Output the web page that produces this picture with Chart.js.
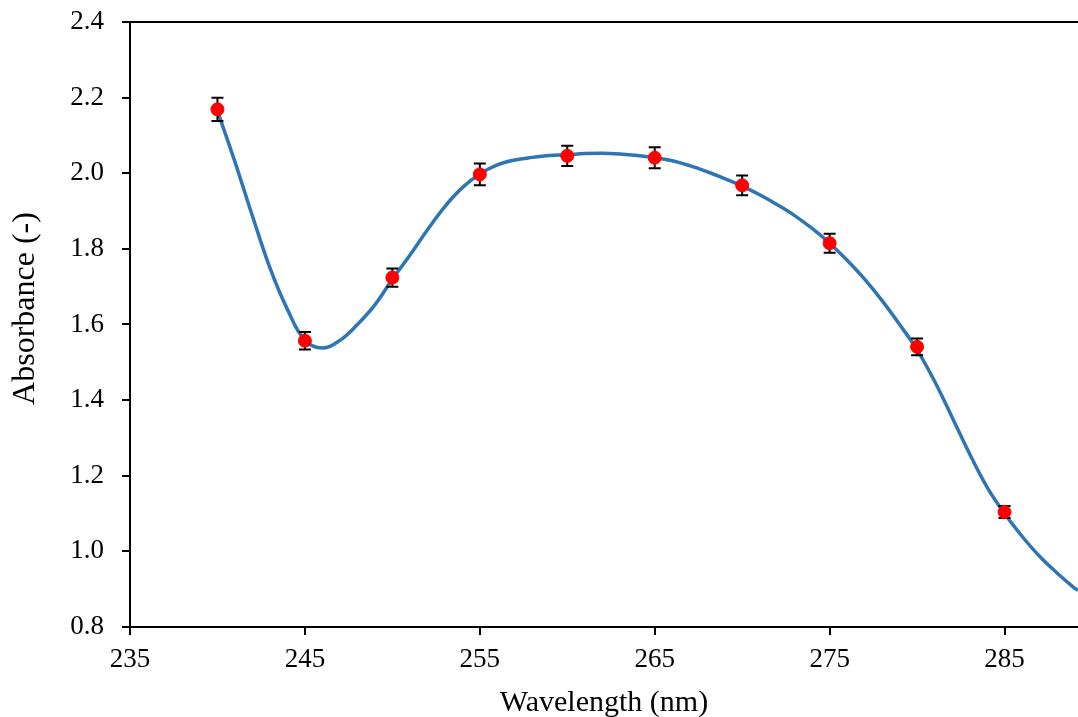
<!DOCTYPE html>
<html>
<head>
<meta charset="utf-8">
<script src="https://cdn.jsdelivr.net/npm/chart.js@4.4.1/dist/chart.umd.min.js"></script>
<style>
  html, body { margin: 0; padding: 0; background: #fff; overflow: hidden; }
  canvas { display: block; }
</style>
</head>
<body>
<canvas id="absChart" width="1078" height="717"></canvas>
<script>
// measured points (with error bars)
const wavelengths = [240, 245, 250, 255, 260, 265, 270, 275, 280, 285];
const absorbance = [2.169, 1.557, 1.724, 1.997, 2.046, 2.041, 1.968, 1.815, 1.541, 1.104];
const absError = [0.031, 0.023, 0.024, 0.029, 0.027, 0.028, 0.026, 0.025, 0.022, 0.016];

// smooth fitted curve
const curveX = [240, 241, 242, 243, 244, 245, 246, 247, 248, 249, 250, 251, 252, 253, 254,
  255, 256, 257, 258, 259, 260, 261, 262, 263, 264, 265, 266, 267, 268, 269, 270, 271, 272,
  273, 274, 275, 276, 277, 278, 279, 280, 281, 282, 283, 284, 285, 286, 287, 288, 289, 289.2];
const curveY = [2.165, 2.03, 1.887, 1.75, 1.64, 1.558, 1.538, 1.558, 1.60, 1.652, 1.72, 1.783,
  1.85, 1.912, 1.962, 1.998, 2.022, 2.035, 2.042, 2.047, 2.049, 2.052, 2.053, 2.051, 2.047,
  2.041, 2.033, 2.02, 2.004, 1.986, 1.966, 1.943, 1.917, 1.888, 1.854, 1.815, 1.77, 1.72,
  1.663, 1.60, 1.533, 1.45, 1.355, 1.258, 1.17, 1.10, 1.04, 0.987, 0.943, 0.903, 0.897];

const xTicks = [235, 245, 255, 265, 275, 285];

const FONT = 'Liberation Serif, Times New Roman, serif';

// error bars drawn right after the curve, under the red markers
const errorBars = {
    id: 'errorBars',
    afterDatasetDraw(chart, args) {
        if (args.index !== 1) return;
        const ctx = chart.ctx;
        const xs = chart.scales.x, ys = chart.scales.y;
        ctx.save();
        ctx.strokeStyle = '#000';
        ctx.lineWidth = 2;
        wavelengths.forEach((w, i) => {
            const px = xs.getPixelForValue(w);
            const top = ys.getPixelForValue(absorbance[i] + absError[i]);
            const bot = ys.getPixelForValue(absorbance[i] - absError[i]);
            ctx.beginPath();
            ctx.moveTo(px, top); ctx.lineTo(px, bot);
            ctx.moveTo(px - 6, top); ctx.lineTo(px + 6, top);
            ctx.moveTo(px - 6, bot); ctx.lineTo(px + 6, bot);
            ctx.stroke();
        });
        ctx.restore();
    }
};

// top frame line of the plot area
const topFrame = {
    id: 'topFrame',
    afterDraw(chart) {
        const { ctx, chartArea } = chart;
        ctx.save();
        ctx.strokeStyle = '#000';
        ctx.lineWidth = 2;
        ctx.beginPath();
        ctx.moveTo(chartArea.left - 1, chartArea.top);
        ctx.lineTo(chart.width, chartArea.top);
        ctx.stroke();
        ctx.restore();
    }
};

document.addEventListener('DOMContentLoaded', () => {
    const ctx = document.getElementById('absChart').getContext('2d');

    Chart.defaults.color = '#000';
    Chart.defaults.font.family = FONT;
    Chart.defaults.font.size = 27;

    new Chart(ctx, {
        type: 'scatter',
        data: {
            datasets: [{
                label: 'Measured',
                data: wavelengths.map((w, i) => ({ x: w, y: absorbance[i] })),
                backgroundColor: '#ff0000',
                borderColor: '#ff0000',
                pointRadius: 6.5,
                pointHoverRadius: 6.5,
                showLine: false
            }, {
                label: 'Fit',
                data: curveX.map((w, i) => ({ x: w, y: curveY[i] })),
                borderColor: '#2e75b6',
                borderWidth: 3.5,
                pointRadius: 0,
                showLine: true,
                tension: 0.4
            }]
        },
        options: {
            responsive: false,
            animation: false,
            layout: { autoPadding: false, padding: { top: 22, right: 0, bottom: 0, left: 0 } },
            plugins: { legend: { display: false }, tooltip: { enabled: false } },
            scales: {
                x: {
                    type: 'linear',
                    position: 'bottom',
                    min: 235,
                    max: 289.2,
                    afterBuildTicks: s => { s.ticks = xTicks.map(v => ({ value: v })); },
                    afterFit: s => { s.height = 90; s.paddingLeft = 0; s.paddingRight = 0; },
                    ticks: { padding: 9, maxRotation: 0 },
                    grid: { display: true, drawOnChartArea: false, drawTicks: true, tickLength: 8, color: '#000', lineWidth: 2 },
                    border: { display: true, color: '#000', width: 2 },
                    title: { display: true, text: 'Wavelength (nm)', font: { size: 30 }, padding: { top: 0, bottom: -4 } }
                },
                y: {
                    min: 0.8,
                    max: 2.4,
                    afterFit: s => { s.width = 130; s.paddingTop = 0; s.paddingBottom = 0; },
                    ticks: { stepSize: 0.2, padding: 18, callback: v => v.toFixed(1) },
                    grid: { display: true, drawOnChartArea: false, drawTicks: true, tickLength: 8, color: '#000', lineWidth: 2 },
                    border: { display: true, color: '#000', width: 2 },
                    title: { display: true, text: '    Absorbance (-)', font: { size: 32 }, padding: { top: 6, bottom: 0 } }
                }
            }
        },
        plugins: [errorBars, topFrame]
    });
});
</script>
</body>
</html>
